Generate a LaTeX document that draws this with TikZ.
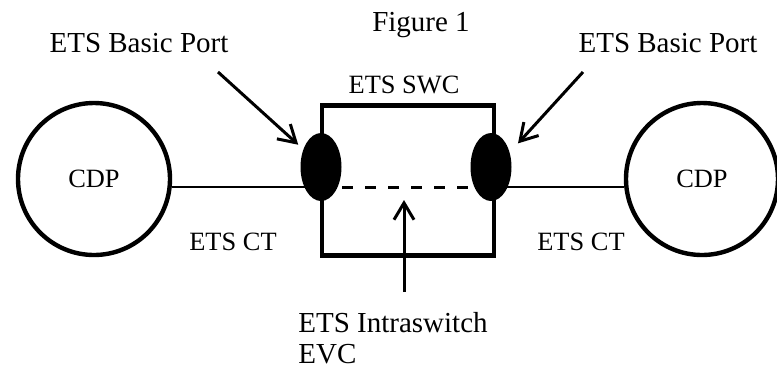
\documentclass[tikz,border=0pt]{standalone}
\usepackage{fontspec}
\setmainfont{Liberation Serif}
\usetikzlibrary{shapes.geometric, arrows.meta, positioning, calc}

\tikzset{
  lbl/.style={font=\fontsize{14.5}{15.5}\selectfont, inner sep=0pt, anchor=base},
  sml/.style={font=\fontsize{13.2}{15}\selectfont, inner sep=0pt, anchor=base},
  cdp/.style={draw, circle, line width=2.2pt, minimum size=76pt, inner sep=0pt, font=\fontsize{13.2}{15}\selectfont},
  swcbox/.style={draw, rectangle, line width=2.3pt, minimum width=86pt, minimum height=75pt},
  port/.style={ellipse, fill=black, minimum width=20.5pt, minimum height=34pt, inner sep=0pt},
  wire/.style={line width=1.3pt},
  pointer/.style={-{Straight Barb[length=8.4pt,width=10pt]}, line width=1.5pt}
}

\begin{document}
\begin{tikzpicture}[x=0.5pt, y=-0.5pt]
  \useasboundingbox (0,0) rectangle (777,366);

  % Switch and end points
  \node[cdp] (cdpL) at (94,179) {CDP};
  \node[cdp] (cdpR) at (702,179) {CDP};
  \node[swcbox] (swc) at (408,180.5) {};
  \node[port] (portL) at (321,167) {};
  \node[port] (portR) at (491,167) {};

  % Links
  \draw[wire] (cdpL.-6) -- (cdpL.-6 -| portL.center);
  \draw[wire] (cdpR.186) -- (cdpR.186 -| portR.center);
  \draw[line width=1.5pt, dash pattern=on 5.5pt off 6pt, dash phase=1pt] (cdpL.-6 -| portL.center) -- (cdpL.-6 -| portR.center);

  % Labels
  \node[lbl] (fig) at (421,31) {Figure 1};
  \node[lbl] (bpL) at (139,52) {ETS Basic Port};
  \node[lbl] (bpR) at (668,52) {ETS Basic Port};
  \node[sml] (swcLbl) at (404,93) {ETS SWC};
  \node[sml] (ctL) at (233,250) {ETS CT};
  \node[sml] (ctR) at (581,250) {ETS CT};
  \node[lbl, anchor=base west, align=left] (evc) at (298,363) {ETS Intraswitch\\EVC};

  % Pointers
  \coordinate (tailL) at (218,72);
  \coordinate (tailR) at (583,72);
  \coordinate (tailE) at (404,292);
  \coordinate (tipE) at (404,200);
  \draw[pointer, shorten >=3.3pt] (tailL) -- (portL.135);
  \draw[pointer, shorten >=6pt] (tailR) -- (portR.38);
  \draw[pointer] (tailE) -- (tipE);
\end{tikzpicture}
\end{document}
